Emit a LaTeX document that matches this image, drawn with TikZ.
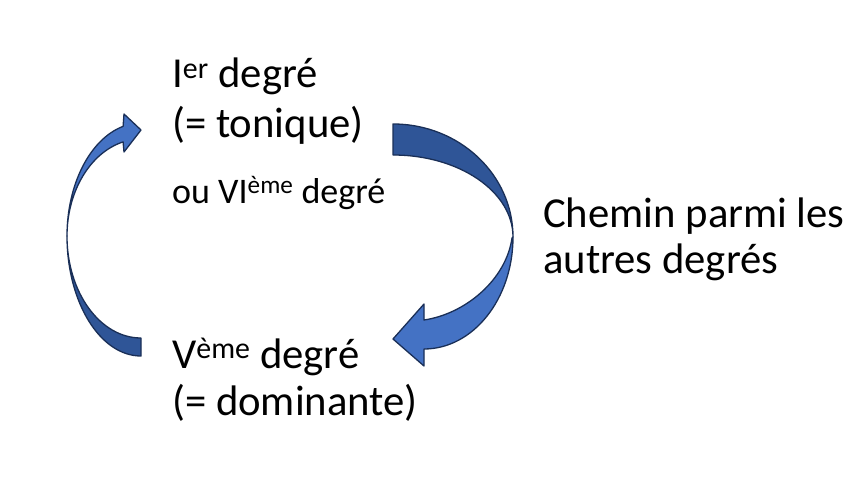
\documentclass[tikz,border=0pt]{standalone}
\usepackage{fontspec}
\setmainfont{Carlito}
\usepackage{xcolor}
\usetikzlibrary{positioning}
\definecolor{bandfront}{HTML}{4472C4}
\definecolor{bandback}{HTML}{2F5597}
\definecolor{bandline}{HTML}{1A2F57}

\begin{document}
\begin{tikzpicture}[x=1pt, y=1pt,
        frontband/.style={fill=bandfront, draw=bandline, line width=1.3pt, line join=round},
        backband/.style={fill=bandback, draw=bandline, line width=1.3pt, line join=round},
        biglabel/.style={anchor=base west, inner sep=0pt, font=\fontsize{42.7}{50}\selectfont},
        smalllabel/.style={anchor=base west, inner sep=0pt, font=\fontsize{36}{42}\selectfont}]
            \useasboundingbox (0,0) rectangle (866,496);
            \node[biglabel] (degreI) at (172,408) {I\textsuperscript{er} degré};
            \node[biglabel] (tonique) at (172,358) {(= tonique)};
            \node[smalllabel] (degreVI) at (172,293) {ou VI\textsuperscript{ème} degré};
            \node[biglabel] (degreV) at (172,128) {V\textsuperscript{ème} degré};
            \node[biglabel] (dominante) at (172,81) {(= dominante)};
            \node[biglabel] (chemin) at (543,269) {Chemin parmi les};
            \node[biglabel] (autres) at (543,223) {autres degrés};
            \draw[backband] (393,372) arc[start angle=90, end angle=0, x radius=120, y radius=113]
                arc[start angle=0, end angle=90, x radius=120, y radius=82] -- cycle;
            \draw[frontband] (513,259) .. controls (513,197) and (473,147) .. (424,147) -- (424,130) -- (393,157)
                -- (424,192) -- (424,176) .. controls (465,182) and (506,216) .. (512,258) -- cycle;
            \draw[backband] (141,140) arc[start angle=270, end angle=180, x radius=74, y radius=120]
                arc[start angle=180, end angle=270, x radius=74, y radius=102] -- cycle;
            \draw[frontband] (67,260) arc[start angle=180, end angle=104, x radius=74, y radius=113] -- (124,382)
                -- (141,366) -- (124,344) -- (123.1,354.1) arc[start angle=104, end angle=180, x radius=74, y radius=97] -- cycle;
        \end{tikzpicture}
\end{document}
